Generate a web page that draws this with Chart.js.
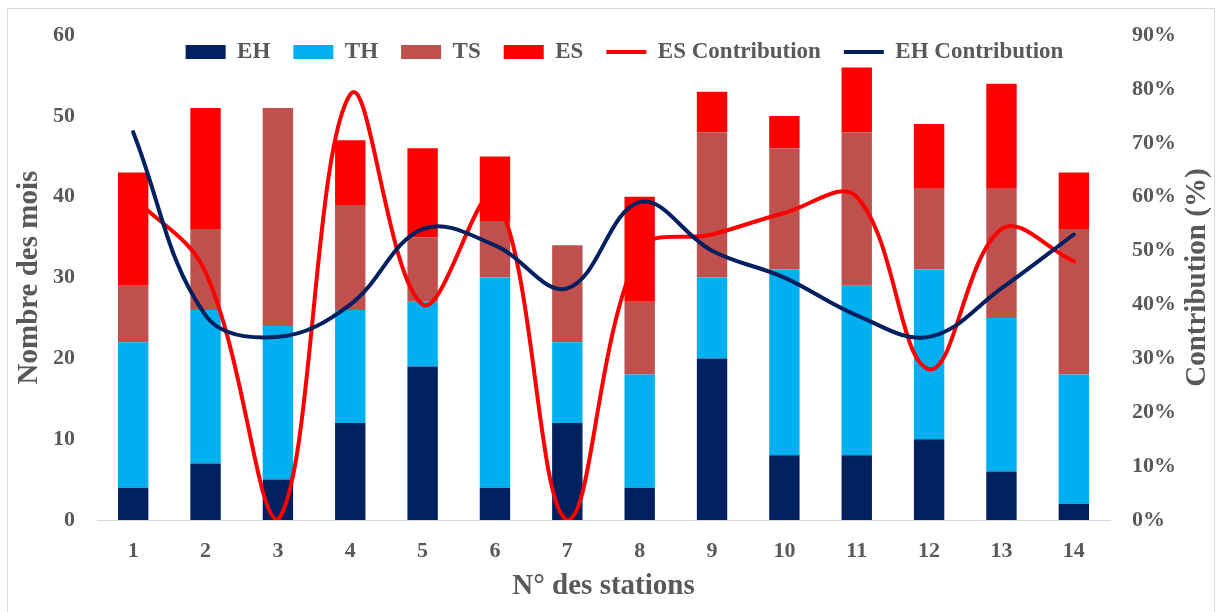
<!DOCTYPE html>
<html>
<head>
<meta charset="utf-8">
<script src="https://cdn.jsdelivr.net/npm/chart.js@4/dist/chart.umd.min.js"></script>
<style>
  html, body { margin: 0; padding: 0; background: #fff; }
  #wrap { width: 1217px; height: 612px; }
</style>
</head>
<body>
<div id="wrap"><canvas id="c" width="1217" height="612"></canvas></div>
<script>
// stations and monthly counts (stacked)
var stations = ['1', '2', '3', '4', '5', '6', '7', '8', '9', '10', '11', '12', '13', '14'];
var eh = [4, 7, 5, 12, 19, 4, 12, 4, 20, 8, 8, 10, 6, 2];
var th = [18, 19, 19, 14, 8, 26, 10, 14, 10, 23, 21, 21, 19, 16];
var ts = [7, 10, 27, 13, 8, 7, 12, 9, 18, 15, 19, 10, 16, 18];
var es = [14, 15, 0, 8, 11, 8, 0, 13, 5, 4, 8, 8, 13, 7];
// contributions in %, right axis
var esContrib = [60, 46, 0, 79, 40, 60, 0, 50, 53, 57, 60, 28, 54, 48];
var ehContrib = [72, 38, 34, 40, 54, 51, 43, 59, 50, 45, 38, 34, 43, 53];

var C = {
    navy: '#002060',
    sky: '#00B0F0',
    brick: '#C0504D',
    red: '#FF0000',
    text: '#595959',
    axis: '#D9D9D9'
};
var SERIF = '"Liberation Serif", "Times New Roman", serif';
var LEGEND_PAD = 23;

// outer frame, floating legend (sits inside the plot like in Excel),
// and the rotated right title (reads bottom-to-top like the left one)
var frame = {
    id: 'frame',
    beforeLayout: function (chart) {
        var lg = chart.legend;
        if (lg && !lg._flat) {
            var fit = lg.fit;
            lg.fit = function () { fit.call(this); this.height = 0; };
            lg._flat = true;
        }
    },
    afterLayout: function (chart) {
        var lg = chart.legend;
        if (!lg) return;
        // legend clips to its own box, so give it real height again
        lg.top = 52 - LEGEND_PAD - 11.5;
        lg.bottom = lg.top + 70;
        lg.height = 70;
        lg.left += 16;
        lg.right += 16;
    },
    beforeDraw: function (chart) {
        var ctx = chart.ctx;
        ctx.save();
        ctx.strokeStyle = C.axis;
        ctx.lineWidth = 1;
        ctx.strokeRect(7.5, 8.5, 1207, 610);
        ctx.restore();
    },
    afterDraw: function (chart) {
        var ctx = chart.ctx;
        var a = chart.chartArea;
        ctx.save();
        ctx.translate(1198, (a.top + a.bottom) / 2);
        ctx.rotate(-Math.PI / 2);
        ctx.font = 'bold 29px ' + SERIF;
        ctx.fillStyle = C.text;
        ctx.textAlign = 'center';
        ctx.textBaseline = 'middle';
        ctx.fillText('Contribution (%)', 0, 0);
        ctx.restore();
    }
};

var bar = function (label, data, color) {
    return {
        type: 'bar',
        label: label,
        data: data,
        backgroundColor: color,
        borderWidth: 0,
        pointStyle: 'rect',
        yAxisID: 'y',
        order: 2,
        categoryPercentage: 1,
        barPercentage: 0.42
    };
};

var line = function (label, data, color, order) {
    return {
        type: 'line',
        label: label,
        data: data,
        borderColor: color,
        backgroundColor: color,
        borderWidth: 4,
        borderCapStyle: 'round',
        pointRadius: 0,
        pointStyle: 'line',
        tension: 0.38,
        yAxisID: 'y2',
        order: order
    };
};

new Chart(document.getElementById('c'), {
    data: {
        labels: stations,
        datasets: [
            bar('EH', eh, C.navy),
            bar('TH', th, C.sky),
            bar('TS', ts, C.brick),
            bar('ES', es, C.red),
            line('ES Contribution', esContrib, C.red, 1),
            line('EH Contribution', ehContrib, C.navy, 0)
        ]
    },
    options: {
        responsive: false,
        animation: false,
        devicePixelRatio: 1,
        layout: { padding: { top: 25, left: 0, right: 0, bottom: 0 } },
        plugins: {
            tooltip: { enabled: false },
            legend: {
                position: 'top',
                align: 'center',
                labels: {
                    usePointStyle: true,
                    pointStyleWidth: 40,
                    boxHeight: 14,
                    padding: LEGEND_PAD,
                    color: C.text,
                    font: { family: SERIF, size: 23, weight: 'bold' },
                    sort: function (a, b) { return a.datasetIndex - b.datasetIndex; }
                }
            }
        },
        scales: {
            x: {
                stacked: true,
                grid: { display: false, drawTicks: false },
                border: { display: true, color: C.axis, width: 1 },
                ticks: {
                    color: C.text,
                    padding: 18,
                    font: { family: SERIF, size: 22, weight: 'bold' }
                },
                title: {
                    display: true,
                    text: 'N° des stations',
                    color: C.text,
                    padding: { top: 0, bottom: 8 },
                    font: { family: SERIF, size: 29, weight: 'bold', lineHeight: 1.2 }
                },
                afterFit: function (s) { s.height = 92; }
            },
            y: {
                stacked: true,
                position: 'left',
                min: 0,
                max: 60,
                grid: { display: false, drawTicks: false },
                border: { display: false },
                ticks: {
                    stepSize: 10,
                    color: C.text,
                    padding: 22,
                    font: { family: SERIF, size: 22, weight: 'bold' }
                },
                title: {
                    display: true,
                    text: 'Nombre des mois',
                    color: C.text,
                    padding: { top: 12, bottom: 0 },
                    font: { family: SERIF, size: 29, weight: 'bold', lineHeight: 1.2 }
                },
                afterFit: function (s) { s.width = 97; }
            },
            y2: {
                position: 'right',
                min: 0,
                max: 90,
                grid: { display: false, drawTicks: false },
                border: { display: false },
                ticks: {
                    stepSize: 10,
                    color: C.text,
                    padding: 22,
                    font: { family: SERIF, size: 22, weight: 'bold' },
                    callback: function (v) { return v + '%'; }
                },
                afterFit: function (s) { s.width = 107; }
            }
        }
    },
    plugins: [frame]
});
</script>
</body>
</html>
